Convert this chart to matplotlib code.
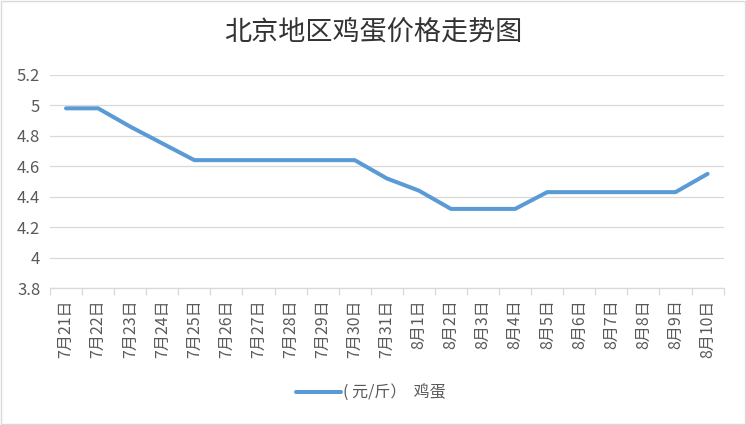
import matplotlib
matplotlib.use("Agg")
import matplotlib.pyplot as plt
import numpy as np
from matplotlib.patches import Rectangle

plt.rcParams['font.family'] = ['Noto Sans CJK SC', 'DejaVu Sans']

dates = ["7月21日", "7月22日", "7月23日", "7月24日", "7月25日", "7月26日", "7月27日",
         "7月28日", "7月29日", "7月30日", "7月31日", "8月1日", "8月2日", "8月3日",
         "8月4日", "8月5日", "8月6日", "8月7日", "8月8日", "8月9日", "8月10日"]
prices = [4.98, 4.98, 4.86, 4.75, 4.64, 4.64, 4.64, 4.64, 4.64, 4.64, 4.52,
          4.44, 4.32, 4.32, 4.32, 4.43, 4.43, 4.43, 4.43, 4.43, 4.55]
yticks = [3.8, 4.0, 4.2, 4.4, 4.6, 4.8, 5.0, 5.2]
ytick_labels = ["3.8", "4", "4.2", "4.4", "4.6", "4.8", "5", "5.2"]
title = "北京地区鸡蛋价格走势图"
series_name = "( 元/斤）  鸡蛋"

fig = plt.figure(figsize=(7.46, 4.25), dpi=100)
fig.patch.set_facecolor('white')
fig.patches.append(Rectangle((0.002, 0.003), 0.996, 0.994, transform=fig.transFigure,
                             fill=False, edgecolor='#d9d9d9', linewidth=1.0))

ax = fig.add_axes([0.067, 0.322, 0.903, 0.502])
x = np.arange(len(dates))
line, = ax.plot(x, prices, color='#5B9BD5', linewidth=2.9, solid_capstyle='round',
                solid_joinstyle='round', label=series_name)

ax.set_xlim(-0.5, len(dates) - 0.5)
ax.set_ylim(3.8, 5.2)
ax.set_yticks(yticks)
ax.set_yticklabels(ytick_labels)
ax.grid(axis='y', color='#d9d9d9', linewidth=0.9)
ax.set_axisbelow(True)

ax.set_xticks(x)
ax.set_xticklabels(dates, rotation=90, fontsize=11.5, color='#595959')
ax.set_xticks(np.arange(-0.5, len(dates)), minor=True)
ax.tick_params(axis='x', which='major', length=0, pad=8)
ax.tick_params(axis='x', which='minor', length=5, color='#d9d9d9', width=0.9)
ax.tick_params(axis='y', length=0, labelsize=12, labelcolor='#595959', pad=7)

for s in ['top', 'right', 'left']:
    ax.spines[s].set_visible(False)
ax.spines['bottom'].set_color('#d9d9d9')
ax.spines['bottom'].set_linewidth(0.9)

fig.text(0.5, 0.925, title, ha='center', va='center', fontsize=19.5, color='#333333')

fig.legend(handles=[line], loc='center', bbox_to_anchor=(0.497, 0.075), frameon=False,
           fontsize=11.5, labelcolor='#595959', handlelength=2.8, handletextpad=0.15)

fig.savefig('out.png', dpi=100)
